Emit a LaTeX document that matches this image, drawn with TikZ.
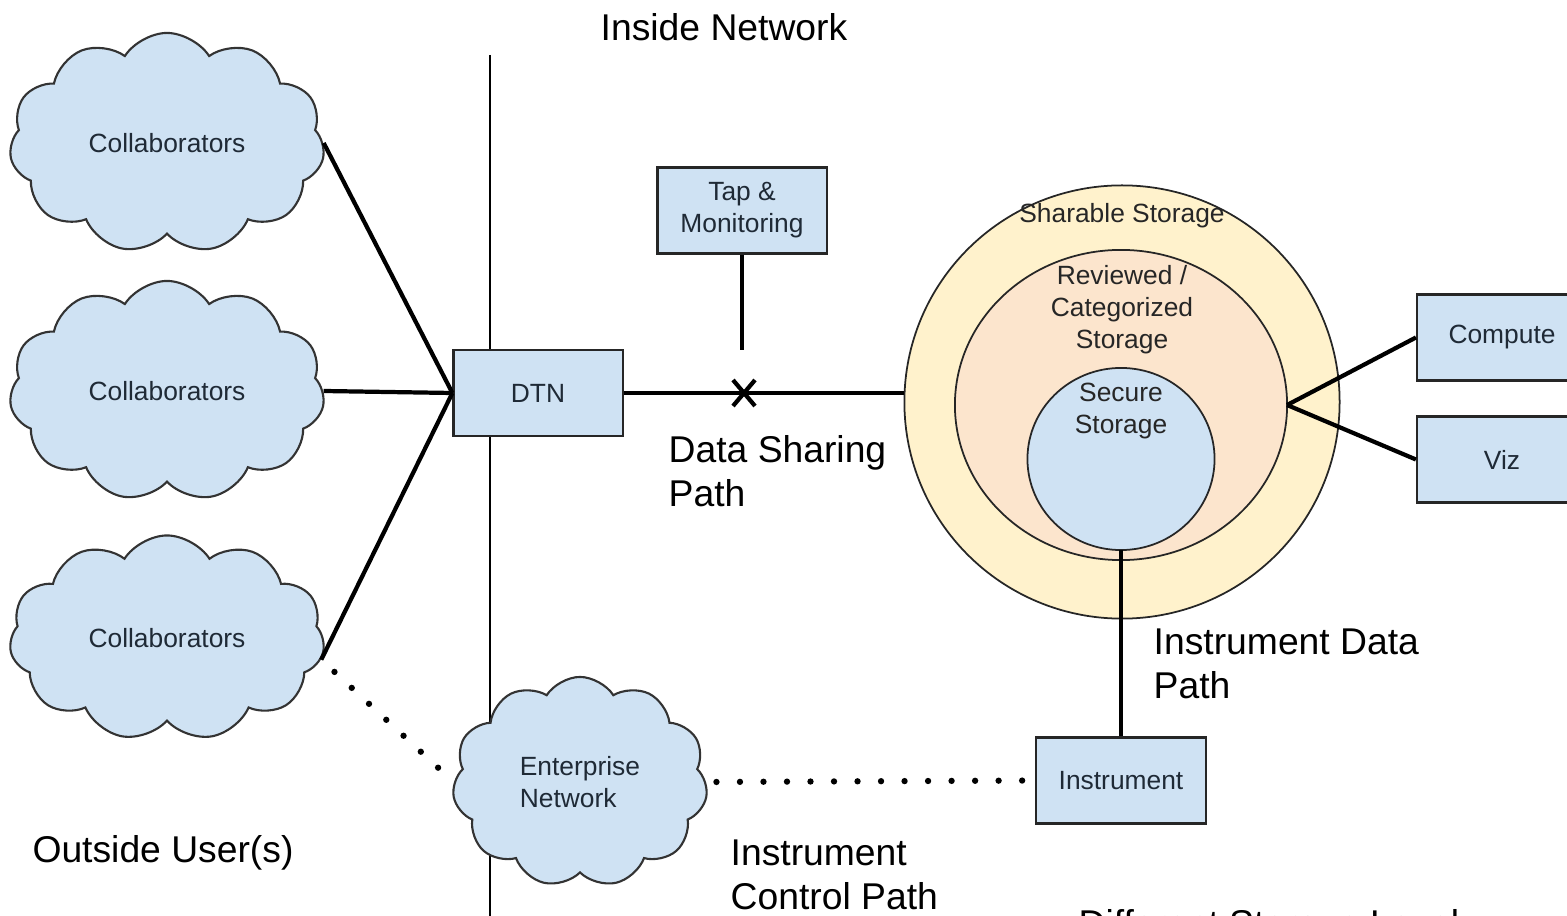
\documentclass[tikz,border=0pt]{standalone}
\usepackage{fontspec}
\setmainfont{Liberation Sans}
\usepackage{tikz}
\usetikzlibrary{shapes.symbols}
\usetikzlibrary{shapes.geometric}

\definecolor{boxblue}{HTML}{CFE2F3}
\definecolor{shareyellow}{HTML}{FFF2CC}
\definecolor{revieworange}{HTML}{FCE5CD}
\definecolor{labelink}{HTML}{1F2A36}

\newcommand{\smalltxt}{\fontsize{7.5}{9.1}\selectfont}
\newcommand{\bigtxt}{\fontsize{10.6}{12.6}\selectfont}

\tikzset{
  cloudy/.style={cloud, cloud puffs=11, cloud puff arc=115, cloud ignores aspect,
    draw=black!80, fill=boxblue, text=labelink, line width=0.6pt, font=\smalltxt},
  bluebox/.style={draw=black!85, fill=boxblue, text=labelink, line width=0.6pt,
    minimum width=1.69cm, minimum height=0.86cm, align=center, font=\smalltxt},
  ring/.style={ellipse, draw=black!85, line width=0.5pt, inner sep=0pt, outer sep=0pt},
  link/.style={line width=1.2pt},
  dotlink/.style={line width=1.8pt, line cap=round, dash pattern=on 0pt off 0.235cm},
  biglabel/.style={font=\bigtxt, align=left, inner sep=0pt},
  ringlabel/.style={font=\smalltxt, align=center, inner sep=0pt, text=black!85}
}

\begin{document}
\begin{tikzpicture}[x=0.01cm,y=-0.01cm]
\useasboundingbox (0,0) rectangle (1567,916);
\coordinate (divtop) at (490,55);
\coordinate (divbot) at (490,916);
\coordinate (tapend) at (742,350);
\coordinate (xmark) at (744,393);
% splits outside from inside
\draw[line width=0.5pt] (divtop) -- (divbot);
% draws clouds
\node[cloudy, minimum width=3.15cm, minimum height=2.2cm] (collab1) at (167,143) {Collaborators};
\node[cloudy, minimum width=3.15cm, minimum height=2.2cm] (collab2) at (167,391) {Collaborators};
\node[cloudy, minimum width=3.15cm, minimum height=2.05cm] (collab3) at (167,638) {Collaborators};
\node[cloudy, minimum width=2.55cm, minimum height=2.1cm, align=left] (enterprise) at (580,782) {Enterprise\\Network};
% draws storage rings
\node[ring, fill=shareyellow, minimum width=4.35cm, minimum height=4.33cm] (share) at (1122,402) {};
\node[ring, fill=revieworange, minimum width=3.32cm, minimum height=3.1cm] (review) at (1121,405) {};
\node[ring, fill=boxblue, minimum width=1.87cm, minimum height=1.82cm] (secure) at (1121,459) {};
\node[ringlabel] (sharelbl) at (1122,216) {Sharable Storage};
\node[ringlabel] (reviewlbl) at (1122,310) {Reviewed /\\Categorized\\Storage};
\node[ringlabel] (securelbl) at (1121,411) {Secure\\Storage};
% draws boxes
\node[bluebox] (dtn) at (538,393) {DTN};
\node[bluebox] (tap) at (742,210.5) {Tap \&\\Monitoring};
\node[bluebox, minimum width=1.7cm] (instr) at (1121,780.5) {Instrument};
\node[bluebox, minimum width=1.7cm] (compute) at (1502,337.5) {Compute};
\node[bluebox, minimum width=1.7cm] (viz) at (1502,459.5) {Viz};
% draws links
\draw[link] (collab1.east) -- (dtn.west);
\draw[link] (collab2.east) -- (dtn.west);
\draw[link] (collab3.-8) -- (dtn.west);
\draw[link] (dtn.east) -- (dtn.east -| share.west);
\draw[link] (tap.south) -- (tapend);
\draw[link] (xmark) ++(-11,-13) -- ++(22,26);
\draw[link] (xmark) ++(11,-13) -- ++(-22,26);
\draw[link] (review.east) -- (compute.west);
\draw[link] (review.east) -- (viz.west);
\draw[link] (secure.south) -- (instr.north);
\draw[dotlink, shorten <=0.18cm] (collab3.-8) -- (enterprise.west);
\draw[dotlink, shorten <=0.1cm] (enterprise.east) -- (instr.west);
% labels
\node[biglabel] (insidelbl) at (724,27) {Inside Network};
\node[biglabel] (outsidelbl) at (163,853) {Outside User(s)};
\node[biglabel, anchor=west] (sharepath) at (668,471) {Data Sharing\\Path};
\node[biglabel, anchor=west] (datapath) at (1153,664) {Instrument Data\\Path};
\node[biglabel, anchor=west] (ctrlpath) at (730,875) {Instrument\\Control Path};
\node[biglabel, anchor=base west] (levels) at (1078,936) {Different Storage Levels};
\end{tikzpicture}
\end{document}
